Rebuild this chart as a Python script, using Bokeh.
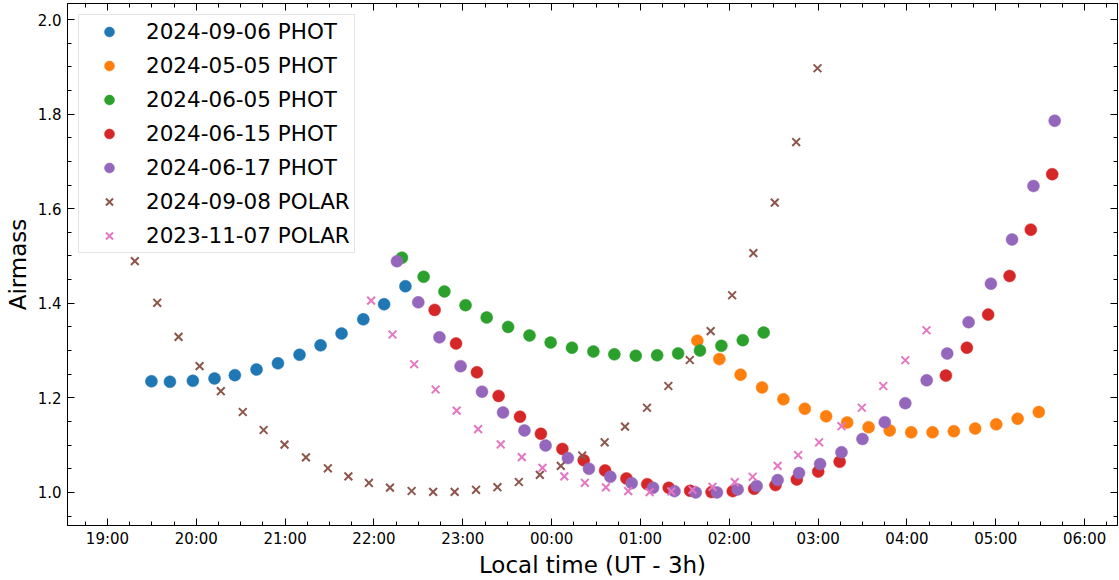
from bokeh.plotting import figure
from bokeh.models import FixedTicker, PrintfTickFormatter, LinearAxis, Range1d, CustomLabelingPolicy
from bokeh.embed import file_html
from bokeh.resources import INLINE

# ---- data (local time in hours; values > 24 are after midnight) ----
hour_ticks = [19, 20, 21, 22, 23, 24, 25, 26, 27, 28, 29, 30]
hour_labels = ["19:00", "20:00", "21:00", "22:00", "23:00", "00:00",
               "01:00", "02:00", "03:00", "04:00", "05:00", "06:00"]
hour_minor = [18.75 + 0.25 * i for i in range(47)]
am_ticks = [1.0, 1.2, 1.4, 1.6, 1.8, 2.0]
am_minor = [0.95 + 0.05 * i for i in range(22)]

t_0906 = [19.495, 19.703, 19.961, 20.205, 20.434, 20.678, 20.919, 21.162, 21.399, 21.635, 21.88, 22.114, 22.354]
a_0906 = [1.235, 1.234, 1.236, 1.241, 1.248, 1.260, 1.273, 1.291, 1.311, 1.336, 1.366, 1.398, 1.436]

t_0505 = [25.64, 25.888, 26.127, 26.369, 26.609, 26.85, 27.09, 27.327, 27.568, 27.806, 28.048, 28.288, 28.528, 28.768, 29.005, 29.246, 29.484]
a_0505 = [1.321, 1.282, 1.249, 1.222, 1.197, 1.177, 1.161, 1.148, 1.138, 1.131, 1.127, 1.127, 1.1295, 1.135, 1.144, 1.156, 1.170]

t_0605 = [22.315, 22.559, 22.793, 23.031, 23.269, 23.51, 23.751, 23.989, 24.229, 24.47, 24.706, 24.947, 25.188, 25.424, 25.67, 25.911, 26.152, 26.387]
a_0605 = [1.4965, 1.456, 1.425, 1.396, 1.370, 1.350, 1.332, 1.317, 1.306, 1.298, 1.292, 1.289, 1.290, 1.294, 1.300, 1.310, 1.322, 1.338]

t_0615 = [22.683, 22.924, 23.159, 23.403, 23.644, 23.879, 24.121, 24.361, 24.602, 24.842, 25.077, 25.318, 25.559, 25.8, 26.039, 26.28, 26.52, 26.76, 27.001, 27.242,
          28.438, 28.674, 28.914, 29.155, 29.394, 29.635]
a_0615 = [1.386, 1.315, 1.254, 1.204, 1.160, 1.124, 1.092, 1.068, 1.0465, 1.0295, 1.0175, 1.0097, 1.0034, 1.0006, 1.0027, 1.0076, 1.0154, 1.0275, 1.044, 1.0647,
          1.247, 1.306, 1.376, 1.4577, 1.5557, 1.673]

t_0617 = [22.259, 22.499, 22.737, 22.975, 23.216, 23.453, 23.694, 23.932, 24.183, 24.42, 24.661, 24.901, 25.142, 25.383, 25.622, 25.861, 26.094, 26.308,
          26.544, 26.785, 27.022, 27.263, 27.499, 27.75, 27.981, 28.222, 28.453, 28.694, 28.945, 29.183, 29.424, 29.663]
a_0617 = [1.489, 1.402, 1.328, 1.267, 1.213, 1.169, 1.131, 1.099, 1.0725, 1.050, 1.033, 1.0196, 1.0097, 1.0027, 1.000, 1.000, 1.0063, 1.0133,
          1.026, 1.0408, 1.060, 1.085, 1.113, 1.1485, 1.1887, 1.237, 1.2937, 1.360, 1.4415, 1.535, 1.648, 1.786]

t_0908 = [19.308, 19.56, 19.80, 20.037, 20.276, 20.523, 20.758, 20.993, 21.234, 21.481, 21.712, 21.943, 22.18, 22.424, 22.666, 22.908, 23.149, 23.39,
          23.631, 23.867, 24.103, 24.344, 24.597, 24.826, 25.074, 25.314, 25.555, 25.79, 26.032, 26.271, 26.512, 26.753, 26.993]
a_0908 = [1.489, 1.401, 1.329, 1.267, 1.214, 1.170, 1.132, 1.101, 1.074, 1.051, 1.034, 1.020, 1.010, 1.003, 1.001, 1.001, 1.0055, 1.011,
          1.022, 1.037, 1.056, 1.078, 1.106, 1.139, 1.179, 1.225, 1.280, 1.341, 1.417, 1.506, 1.613, 1.741, 1.897]

t_1107 = [21.968, 22.209, 22.453, 22.694, 22.931, 23.172, 23.427, 23.664, 23.897, 24.143, 24.374, 24.611, 24.862, 25.103, 25.348, 25.585, 25.811, 26.062,
          26.263, 26.544, 26.775, 27.011, 27.263, 27.492, 27.733, 27.981, 28.22]
a_1107 = [1.4057, 1.334, 1.271, 1.2176, 1.173, 1.1337, 1.1014, 1.0746, 1.052, 1.034, 1.0203, 1.0106, 1.0027, 1.0006, 1.002, 1.0055, 1.0118, 1.0218,
          1.033, 1.056, 1.079, 1.106, 1.140, 1.179, 1.225, 1.2795, 1.343]

series = [
    ("2024-09-06 PHOT", t_0906, a_0906, "circle", "#1f77b4"),
    ("2024-05-05 PHOT", t_0505, a_0505, "circle", "#ff7f0e"),
    ("2024-06-05 PHOT", t_0605, a_0605, "circle", "#2ca02c"),
    ("2024-06-15 PHOT", t_0615, a_0615, "circle", "#d62728"),
    ("2024-06-17 PHOT", t_0617, a_0617, "circle", "#9467bd"),
    ("2024-09-08 POLAR", t_0908, a_0908, "x", "#8c564b"),
    ("2023-11-07 POLAR", t_1107, a_1107, "x", "#e377c2"),
]

FONT = "DejaVu Sans"

p = figure(width=1119, height=580, output_backend="svg", toolbar_location=None,
           x_range=Range1d(18.55, 30.37), y_range=Range1d(0.930, 2.034),
           min_border_left=67, min_border_right=2, min_border_top=3, min_border_bottom=55)
p.background_fill_color = "white"
p.border_fill_color = "white"
p.outline_line_color = "black"
p.outline_line_width = 1
p.xgrid.visible = False
p.ygrid.visible = False

for label, xs, ys, marker, color in series:
    if marker == "circle":
        p.scatter(xs, ys, marker="circle", size=12, fill_color=color, line_color=color,
                  line_width=0.5, legend_label=label)
    else:
        p.scatter(xs, ys, marker="x", size=11, line_color=color, line_width=2,
                  legend_label=label)

xticker = FixedTicker(ticks=hour_ticks, minor_ticks=hour_minor)
yticker = FixedTicker(ticks=am_ticks, minor_ticks=am_minor)


def style_axis(ax):
    ax.major_tick_in = 7
    ax.major_tick_out = 0
    ax.minor_tick_in = 4
    ax.minor_tick_out = 0
    ax.axis_line_color = "black"
    ax.major_tick_line_color = "black"
    ax.minor_tick_line_color = "black"
    ax.major_label_text_font = FONT
    ax.major_label_text_font_size = "15px"
    ax.major_label_text_color = "black"
    ax.axis_label_text_font = FONT
    ax.axis_label_text_font_size = "23px"
    ax.axis_label_text_font_style = "normal"
    ax.axis_label_text_color = "black"


xa = p.xaxis[0]
xa.ticker = xticker
xa.major_label_overrides = {float(t): s for t, s in zip(hour_ticks, hour_labels)}
xa.axis_label = "Local time (UT - 3h)"
style_axis(xa)
xa.major_label_standoff = 4
xa.axis_label_standoff = 1

ya = p.yaxis[0]
ya.ticker = yticker
ya.formatter = PrintfTickFormatter(format="%.1f")
ya.axis_label = "Airmass"
style_axis(ya)
ya.major_label_standoff = 6
ya.axis_label_standoff = 4

# mirrored tick marks on top and right, without labels
no_labels = CustomLabelingPolicy(code="for (const i of indices) { indices.unset(i) }\nreturn indices")
for loc, tk in (("above", xticker), ("right", yticker)):
    ax = LinearAxis(ticker=tk)
    style_axis(ax)
    ax.major_label_text_font_size = "0px"
    ax.major_label_standoff = 0
    ax.major_label_policy = no_labels
    p.add_layout(ax, loc)

lg = p.legend[0]
lg.location = "top_left"
lg.margin = 11
lg.padding = 4
lg.spacing = 9
lg.label_height = 25
lg.glyph_height = 25
lg.glyph_width = 52
lg.label_standoff = 11
lg.label_text_font = FONT
lg.label_text_font_size = "21.5px"
lg.label_text_color = "black"
lg.border_line_color = "#cccccc"
lg.border_line_width = 1
lg.background_fill_color = "white"
lg.background_fill_alpha = 0.8

open("out.html", "w").write(file_html(p, INLINE))
